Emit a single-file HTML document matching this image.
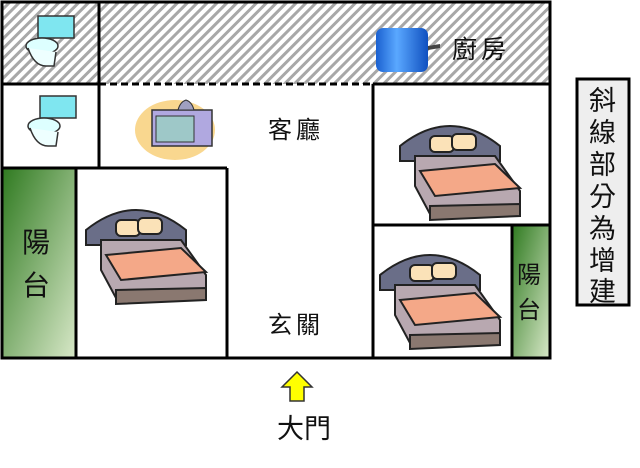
<!DOCTYPE html>
<html><head><meta charset="utf-8"><style>
body{margin:0;background:#fff;width:640px;height:463px;overflow:hidden}
text{font-family:"Liberation Sans","Noto Sans CJK TC",sans-serif;fill:#111}
</style></head><body>
<svg width="640" height="463" viewBox="0 0 640 463" xmlns="http://www.w3.org/2000/svg">
<defs>
<pattern id="h" width="7" height="7" patternUnits="userSpaceOnUse" patternTransform="rotate(45)">
<rect width="7" height="7" fill="#fff"/><rect width="3" height="7" fill="#a8a8a8"/></pattern>
<linearGradient id="g" x1="0" y1="0" x2="1" y2="1"><stop offset="0" stop-color="#2f7a20"/><stop offset="1" stop-color="#d8e8c8"/></linearGradient>
<linearGradient id="pot" x1="0" x2="1"><stop offset="0" stop-color="#1a60d0"/><stop offset=".4" stop-color="#5aa8ff"/><stop offset="1" stop-color="#1050c0"/></linearGradient>
<g id="bed">
<path d="M0 30 Q50 -10 100 30 L100 45 L0 45Z" fill="#6a6e88" stroke="#222" stroke-width="2"/>
<path d="M15 40 L95 40 L120 75 L120 95 L30 98 L15 70Z" fill="#b8a8b0" stroke="#222" stroke-width="2"/>
<path d="M20 55 L95 48 L120 72 L35 80Z" fill="#f4a888" stroke="#222" stroke-width="2"/>
<path d="M30 90 L120 88 L120 100 L30 104Z" fill="#8a7870" stroke="#222" stroke-width="2"/>
<rect x="30" y="20" width="24" height="16" rx="5" fill="#fbe2b8" stroke="#222" stroke-width="2"/>
<rect x="52" y="18" width="24" height="16" rx="5" fill="#fbe2b8" stroke="#222" stroke-width="2"/>
</g>
<g id="toilet">
<rect x="14" y="0" width="36" height="22" fill="#7fe6f0" stroke="#333" stroke-width="1.5"/>
<ellipse cx="18" cy="30" rx="16" ry="8" fill="#dff" stroke="#333" stroke-width="1.5"/>
<path d="M4 32 Q10 50 22 50 L30 50 L32 36" fill="#eff" stroke="#333" stroke-width="1.5"/>
</g>
</defs>
<rect x="2" y="2" width="548" height="82" fill="url(#h)"/>
<rect x="2" y="168" width="74" height="190" fill="url(#g)"/>
<rect x="512" y="225" width="38" height="133" fill="url(#g)"/>
<g stroke="#000" stroke-width="3" fill="none">
<rect x="2" y="2" width="548" height="356"/>
<line x1="99" y1="2" x2="99" y2="168"/>
<line x1="2" y1="84" x2="99" y2="84"/>
<line x1="373" y1="84" x2="550" y2="84"/>
<line x1="99" y1="84" x2="373" y2="84" stroke-dasharray="7,4"/>
<line x1="2" y1="168" x2="227" y2="168"/>
<line x1="76" y1="168" x2="76" y2="358"/>
<line x1="227" y1="168" x2="227" y2="358"/>
<line x1="373" y1="84" x2="373" y2="358"/>
<line x1="373" y1="225" x2="550" y2="225"/>
<line x1="512" y1="225" x2="512" y2="358"/>
</g>
<use href="#toilet" x="24" y="16"/>
<use href="#toilet" x="26" y="96"/>
<ellipse cx="175" cy="130" rx="40" ry="30" fill="#f6c660" opacity=".7"/>
<rect x="152" y="110" width="60" height="36" fill="#b0a8e0" stroke="#333" stroke-width="1.5"/>
<rect x="156" y="116" width="38" height="26" fill="#9ec8c8" stroke="#333"/>
<path d="M178 110 Q180 102 186 100 Q192 102 194 110Z" fill="#a0a0c0" stroke="#333"/>
<rect x="376" y="28" width="52" height="44" rx="7" fill="url(#pot)"/>
<path d="M428 46 L440 44 L440 48 L428 50Z" fill="#444"/>
<use href="#bed" x="400" y="116"/>
<use href="#bed" x="86" y="200"/>
<use href="#bed" x="380" y="245"/>
<text x="452" y="58" font-size="25" letter-spacing="4">廚房</text>
<text x="268" y="138" font-size="24" letter-spacing="4">客廳</text>
<text x="268" y="333" font-size="24" letter-spacing="4">玄關</text>
<text x="22" y="252" font-size="28">陽</text>
<text x="22" y="295" font-size="28">台</text>
<text x="517" y="283" font-size="24">陽</text>
<text x="517" y="318" font-size="24">台</text>
<text x="277" y="438" font-size="27">大門</text>
<rect x="577" y="79" width="52" height="226" fill="#eee" stroke="#000" stroke-width="3"/>
<g font-size="27"><text x="589" y="110">斜</text><text x="589" y="142">線</text><text x="589" y="174">部</text><text x="589" y="206">分</text><text x="589" y="238">為</text><text x="589" y="270">增</text><text x="589" y="301">建</text></g>
<path d="M297 372 L312 387 L304 387 L304 401 L290 401 L290 387 L282 387Z" fill="#ff0" stroke="#333" stroke-width="1.5"/>
</svg>
</body></html>
